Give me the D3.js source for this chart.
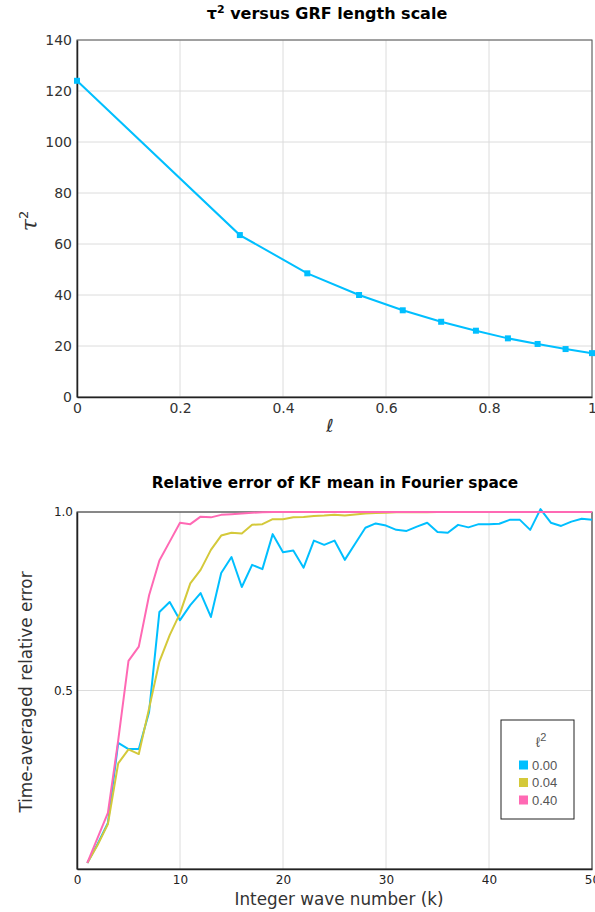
<!DOCTYPE html>
<html>
<head>
<meta charset="utf-8">
<script src="https://cdn.jsdelivr.net/npm/d3@7"></script>
<style>
  html, body { margin: 0; padding: 0; background: #fff; }
  svg { display: block; font-family: "DejaVu Sans", sans-serif; }
</style>
</head>
<body>
<svg id="chart" width="595" height="912"></svg>
<script>
// ---- τ² versus length scale ----
const ellValues = [0, 0.3162, 0.4472, 0.5477, 0.6325, 0.7071, 0.7746, 0.8367, 0.8944, 0.9487, 1.0];
const tauSq = [124, 63.5, 48.5, 40, 34, 29.5, 26, 23, 20.8, 18.8, 17.2];
const topXTicks = [0, 0.2, 0.4, 0.6, 0.8, 1];
const topYTicks = [0, 20, 40, 60, 80, 100, 120, 140];

// ---- relative error by wave number ----
const waveNumbers = d3.range(1, 51);
const errL0 = [0.017, 0.07, 0.129, 0.353, 0.336, 0.336, 0.44, 0.72, 0.748, 0.697,
  0.739, 0.773, 0.706, 0.829, 0.874, 0.79, 0.852, 0.84, 0.938, 0.887,
  0.892, 0.844, 0.92, 0.908, 0.92, 0.866, 0.911, 0.956, 0.968, 0.962,
  0.95, 0.947, 0.959, 0.97, 0.944, 0.942, 0.964, 0.957, 0.966, 0.966,
  0.967, 0.978, 0.978, 0.95, 1.008, 0.97, 0.961, 0.973, 0.981, 0.978];
const errL004 = [0.017, 0.067, 0.126, 0.296, 0.335, 0.322, 0.45, 0.581, 0.655, 0.716,
  0.8, 0.838, 0.894, 0.934, 0.942, 0.94, 0.964, 0.966, 0.98, 0.98,
  0.985, 0.986, 0.989, 0.99, 0.992, 0.99, 0.993, 0.996, 0.997, 0.998,
  0.999, 0.999, 0.999, 0.999, 1, 1, 1, 1, 1, 1,
  1, 1, 1, 1, 1, 1, 1, 1, 1, 1];
const errL040 = [0.017, 0.087, 0.157, 0.36, 0.583, 0.623, 0.767, 0.864, 0.917, 0.97,
  0.966, 0.987, 0.985, 0.992, 0.994, 0.996, 0.998, 0.999, 1, 1,
  1, 1, 1, 1, 1, 1, 1, 1, 1, 1,
  1, 1, 1, 1, 1, 1, 1, 1, 1, 1,
  1, 1, 1, 1, 1, 1, 1, 1, 1, 1];
const seriesLabels = ["0.00", "0.04", "0.40"];
const seriesColors = ["#00bfff", "#d4c93a", "#ff69b4"];
const bottomXTicks = [0, 10, 20, 30, 40, 50];
const bottomYTicks = [0.5, 1.0];

const svg = d3.select("#chart");
const gridColor = "#dcdcdc";
const axisColor = "#222";
const tickColor = "#333";

// ================= top panel =================
{
  const L = 77, R = 592, T = 40, B = 397;
  const x = d3.scaleLinear().domain([0, 1]).range([L, R]);
  const y = d3.scaleLinear().domain([0, 140]).range([B, T]);

  svg.append("text").attr("x", 327).attr("y", 19)
    .attr("text-anchor", "middle").attr("font-weight", "bold").attr("font-size", 16)
    .attr("fill", "#000")
    .html('τ<tspan dy="-6" font-size="11">2</tspan><tspan dy="6"> versus GRF length scale</tspan>');

  // grid
  svg.append("g").selectAll("line").data(topXTicks).join("line")
    .attr("x1", d => x(d)).attr("x2", d => x(d)).attr("y1", T).attr("y2", B)
    .attr("stroke", gridColor).attr("stroke-width", 1);
  svg.append("g").selectAll("line").data(topYTicks).join("line")
    .attr("x1", L).attr("x2", R).attr("y1", d => y(d)).attr("y2", d => y(d))
    .attr("stroke", gridColor).attr("stroke-width", 1);

  // frame
  svg.append("rect").attr("x", L).attr("y", T).attr("width", R - L).attr("height", B - T)
    .attr("fill", "none").attr("stroke", "#555").attr("stroke-width", 1);

  const xAxis = svg.append("g").attr("transform", `translate(0,${B})`)
    .call(d3.axisBottom(x).tickValues(topXTicks).tickSize(0).tickPadding(6).tickFormat(d3.format("")));
  const yAxis = svg.append("g").attr("transform", `translate(${L},0)`)
    .call(d3.axisLeft(y).tickValues(topYTicks).tickSize(0).tickPadding(5));
  [xAxis, yAxis].forEach(a => {
    a.select(".domain").attr("stroke", axisColor).attr("stroke-width", 1.5);
    a.selectAll("text").attr("font-size", 14).attr("fill", tickColor).attr("font-family", "DejaVu Sans");
  });

  const line = d3.line().x((d, i) => x(ellValues[i])).y(d => y(d));
  svg.append("path").datum(tauSq).attr("d", line)
    .attr("fill", "none").attr("stroke", "#00bfff").attr("stroke-width", 2);
  svg.append("g").selectAll("rect").data(tauSq).join("rect")
    .attr("x", (d, i) => x(ellValues[i]) - 3).attr("y", d => y(d) - 3)
    .attr("width", 6).attr("height", 6).attr("fill", "#00bfff");

  svg.append("text").attr("x", 330).attr("y", 432).attr("text-anchor", "middle")
    .attr("font-size", 18).attr("fill", tickColor).text("ℓ");
  svg.append("text").attr("transform", "translate(37,221) rotate(-90)")
    .attr("text-anchor", "middle").attr("font-size", 22).attr("fill", tickColor)
    .attr("font-style", "italic").attr("font-family", "DejaVu Serif")
    .html('τ<tspan dy="-9" font-size="13" font-style="normal" font-family="DejaVu Sans">2</tspan>');
}

// ================= bottom panel =================
{
  const L = 77, R = 592, T = 512, B = 869;
  const x = d3.scaleLinear().domain([0, 50]).range([L, R]);
  const y = d3.scaleLinear().domain([0, 1]).range([B, T]);

  svg.append("text").attr("x", 335).attr("y", 488)
    .attr("text-anchor", "middle").attr("font-weight", "bold").attr("font-size", 15.3)
    .attr("fill", "#000").text("Relative error of KF mean in Fourier space");

  svg.append("g").selectAll("line").data(bottomXTicks).join("line")
    .attr("x1", d => x(d)).attr("x2", d => x(d)).attr("y1", T).attr("y2", B)
    .attr("stroke", gridColor).attr("stroke-width", 1);
  svg.append("g").selectAll("line").data(bottomYTicks).join("line")
    .attr("x1", L).attr("x2", R).attr("y1", d => y(d)).attr("y2", d => y(d))
    .attr("stroke", gridColor).attr("stroke-width", 1);

  svg.append("rect").attr("x", L).attr("y", T).attr("width", R - L).attr("height", B - T)
    .attr("fill", "none").attr("stroke", "#222").attr("stroke-width", 1);

  const xAxis = svg.append("g").attr("transform", `translate(0,${B})`)
    .call(d3.axisBottom(x).tickValues(bottomXTicks).tickSize(0).tickPadding(6));
  const yAxis = svg.append("g").attr("transform", `translate(${L},0)`)
    .call(d3.axisLeft(y).tickValues(bottomYTicks).tickSize(0).tickPadding(4).tickFormat(d3.format(".1f")));
  [xAxis, yAxis].forEach(a => {
    a.select(".domain").attr("stroke", axisColor).attr("stroke-width", 1.5);
    a.selectAll("text").attr("font-size", 12).attr("fill", "#222").attr("font-family", "DejaVu Sans");
  });

  const series = [errL0, errL004, errL040];
  const line = d3.line().x((d, i) => x(waveNumbers[i])).y(d => y(d));
  // later series are drawn on top
  series.forEach((s, i) => {
    svg.append("path").datum(s).attr("d", line)
      .attr("fill", "none").attr("stroke", seriesColors[i]).attr("stroke-width", 2)
      .attr("stroke-linejoin", "round");
  });

  svg.append("text").attr("x", 339).attr("y", 905).attr("text-anchor", "middle")
    .attr("font-size", 16.8).attr("fill", "#333").text("Integer wave number (k)");
  svg.append("text").attr("transform", "translate(32,692) rotate(-90)")
    .attr("text-anchor", "middle").attr("font-size", 16.8).attr("fill", "#333")
    .text("Time-averaged relative error");

  // legend
  const lg = svg.append("g").attr("font-family", "Liberation Sans, Arial, sans-serif");
  lg.append("rect").attr("x", 501).attr("y", 720).attr("width", 73).attr("height", 99)
    .attr("fill", "#fff").attr("stroke", "#222").attr("stroke-width", 1);
  lg.append("text").attr("x", 541).attr("y", 747).attr("text-anchor", "middle")
    .attr("font-size", 14).attr("fill", "#555")
    .html('ℓ<tspan dy="-6" font-size="11">2</tspan>');
  seriesLabels.forEach((lab, i) => {
    const cy = 765 + i * 17.5;
    lg.append("rect").attr("x", 519).attr("y", cy - 4.5).attr("width", 9).attr("height", 9)
      .attr("fill", seriesColors[i]);
    lg.append("text").attr("x", 532).attr("y", cy + 4.5).attr("font-size", 13)
      .attr("fill", "#555").text(lab);
  });
}
</script>
</body>
</html>
